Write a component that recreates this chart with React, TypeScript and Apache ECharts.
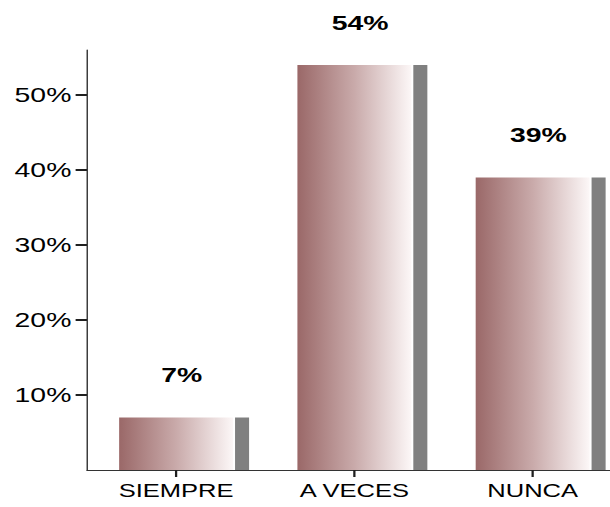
import React, { useEffect, useRef } from 'react';
import * as echarts from 'echarts';

const categories: string[] = ['SIEMPRE', 'A VECES', 'NUNCA'];
const values: number[] = [7, 54, 39];
const yTickValues: number[] = [10, 20, 30, 40, 50];
const yMax = 56;
const yInterval = 10;

const SX = 610 / 430;
const INNER_W = 445;
const H = 507;

export default function App() {
  const ref = useRef<HTMLDivElement>(null);
  useEffect(() => {
    if (!ref.current) return;
    const chart = echarts.init(ref.current, null, { renderer: 'svg' });
    const font = '"Liberation Sans", Arial, sans-serif';
    const tickColor = '#1f1f1f';
    chart.setOption({
      animation: false,
      backgroundColor: '#ffffff',
      grid: { left: 61.3, top: 50, width: 377, bottom: 37, containLabel: false },
      xAxis: {
        type: 'category',
        data: categories,
        axisLine: { show: true, lineStyle: { color: '#333333', width: 1 } },
        axisTick: { show: false },
        axisLabel: { color: '#000000', fontSize: 18, fontFamily: font, margin: 12 },
      },
      yAxis: {
        type: 'value',
        min: 0,
        max: yMax,
        interval: yInterval,
        splitLine: { show: false },
        axisLine: { show: true, lineStyle: { color: '#333333', width: 1 } },
        axisTick: { show: false },
        axisLabel: {
          color: '#000000',
          fontSize: 20,
          fontFamily: font,
          margin: 11,
          showMinLabel: false,
          showMaxLabel: false,
          formatter: (v: number) => (v === 0 || v === yMax ? '' : `${v}%`),
        },
      },
      series: [
        {
          type: 'custom',
          z: 2,
          data: values.map((v, i) => [i, v]),
          encode: { x: 0, y: 1 },
          renderItem: (params: any, api: any) => {
            const idx = api.value(0);
            const v = api.value(1);
            const top = api.coord([idx, v]);
            const base = api.coord([idx, 0]);
            const bw = 80.3;
            const gap = 1.4;
            const sw = 9.9;
            const left = top[0] - bw / 2;
            const h = base[1] - top[1];
            return {
              type: 'group',
              children: [
                {
                  type: 'rect',
                  shape: { x: left, y: top[1], width: bw, height: h },
                  style: {
                    fill: new echarts.graphic.LinearGradient(0, 0, 1, 0, [
                      { offset: 0, color: '#9a6868' },
                      { offset: 0.5, color: '#c9aaaa' },
                      { offset: 1, color: '#fcf7f7' },
                    ]),
                  },
                },
                {
                  type: 'rect',
                  shape: { x: left + bw + gap, y: top[1], width: sw, height: h },
                  style: { fill: '#808080' },
                },
                {
                  type: 'text',
                  x: top[0] + 4,
                  y: top[1] - 42,
                  style: {
                    text: `${v}%`,
                    fontSize: 20,
                    fontWeight: 'bold',
                    fontFamily: font,
                    fill: '#000000',
                    align: 'center',
                    verticalAlign: 'middle',
                  },
                },
              ],
            };
          },
        },
        {
          type: 'custom',
          z: 10,
          clip: false,
          silent: true,
          data: yTickValues.map((v) => [0, v]),
          encode: { x: 0, y: 1 },
          renderItem: (params: any, api: any) => {
            const p = api.coord([api.value(0), api.value(1)]);
            const x0 = params.coordSys.x;
            return {
              type: 'rect',
              shape: { x: x0 - 8, y: p[1] - 1, width: 8, height: 2 },
              style: { fill: tickColor },
            };
          },
        },
        {
          type: 'custom',
          z: 10,
          clip: false,
          silent: true,
          data: categories.map((_, i) => [i, 0]),
          encode: { x: 0, y: 1 },
          renderItem: (params: any, api: any) => {
            const p = api.coord([api.value(0), 0]);
            return {
              type: 'rect',
              shape: { x: p[0] - 0.8, y: p[1], width: 1.6, height: 7 },
              style: { fill: tickColor },
            };
          },
        },
      ],
    });
    return () => chart.dispose();
  }, []);
  return (
    <div
      style={{
        position: 'absolute',
        left: 0,
        top: 0,
        width: 610,
        height: H,
        overflow: 'hidden',
        background: '#ffffff',
      }}
    >
      <div
        ref={ref}
        style={{
          position: 'absolute',
          left: 0,
          top: 0,
          width: INNER_W,
          height: H,
          transform: `scaleX(${SX})`,
          transformOrigin: '0 0',
        }}
      />
    </div>
  );
}
